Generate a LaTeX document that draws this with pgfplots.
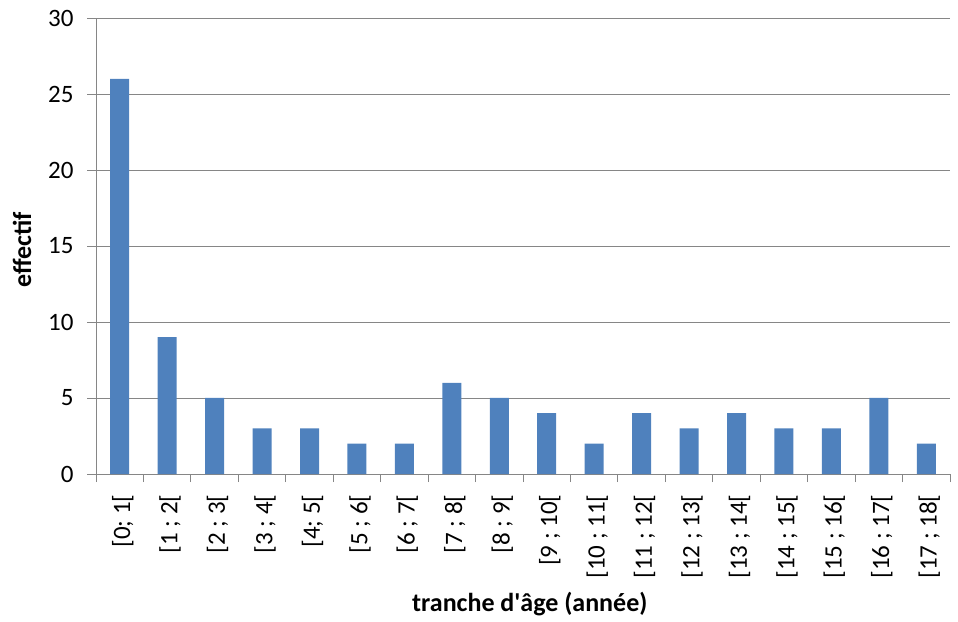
\documentclass[border=0pt]{standalone}
\usepackage{pgfplots}
\pgfplotsset{compat=1.18}
\usepackage{fontspec}
\setmainfont{Carlito}
\newfontfamily\rawfont{Carlito}
\definecolor{barblue}{HTML}{4F81BD}
\definecolor{gridgray}{HTML}{868686}
\begin{document}
\begin{tikzpicture}
\begin{axis}[
  scale only axis, width=854pt, height=456pt,
  at={(96pt,147pt)}, anchor=south west,
  xmin=-0.5, xmax=17.5, ymin=0, ymax=30,
  ytick={0,5,...,30},
  ymajorgrids, grid style={gridgray, line width=0.8pt},
  axis line style={gridgray, line width=0.8pt},
  axis x line*=bottom, axis y line*=left,
  xtick={0,...,17},
  xticklabels={{[0; 1[},{[1 ; 2[},{[2 ; 3[},{[3 ; 4[},{[4; 5[},{[5 ; 6[},{[6 ; 7[},{[7 ; 8[},{[8 ; 9[},{[9 ; 10[},{[10 ; 11[},{[11 ; 12[},{[12 ; 13[},{[13 ; 14[},{[14 ; 15[},{[15 ; 16[},{[16 ; 17[},{[17 ; 18[}},
  major x tick style={draw=none},
  minor xtick={-0.5,0.5,...,17.5},
  minor x tick style={gridgray, line width=0.8pt},
  minor tick length=8pt,
  major y tick style={gridgray, line width=0.8pt},
  major tick length=9pt,
  tick align=outside,
  xticklabel style={rotate=90, anchor=east, font=\fontsize{25}{28}\selectfont, xshift=-8pt, yshift=-3pt},
  yticklabel style={font=\fontsize{25}{28}\selectfont, xshift=-10pt},
  /pgf/number format/assume math mode=true,
  ylabel={\textbf{effectif}},
  xlabel={{\rawfont\bfseries tranche d'âge (année)}},
  label style={font=\fontsize{26}{30}\selectfont},
  ylabel style={at={(axis description cs:-0.0866,0.491)}, anchor=center, rotate=0},
  xlabel style={at={(axis description cs:0.508,-0.285)}, anchor=center},
]
\addplot[ybar, bar width=19pt, fill=barblue, draw=none] coordinates {
(0,26) (1,9) (2,5) (3,3) (4,3) (5,2) (6,2) (7,6) (8,5) (9,4)
(10,2) (11,4) (12,3) (13,4) (14,3) (15,3) (16,5) (17,2)};
\end{axis}
\path (0,0) rectangle (958pt,621pt);
\end{tikzpicture}
\end{document}
